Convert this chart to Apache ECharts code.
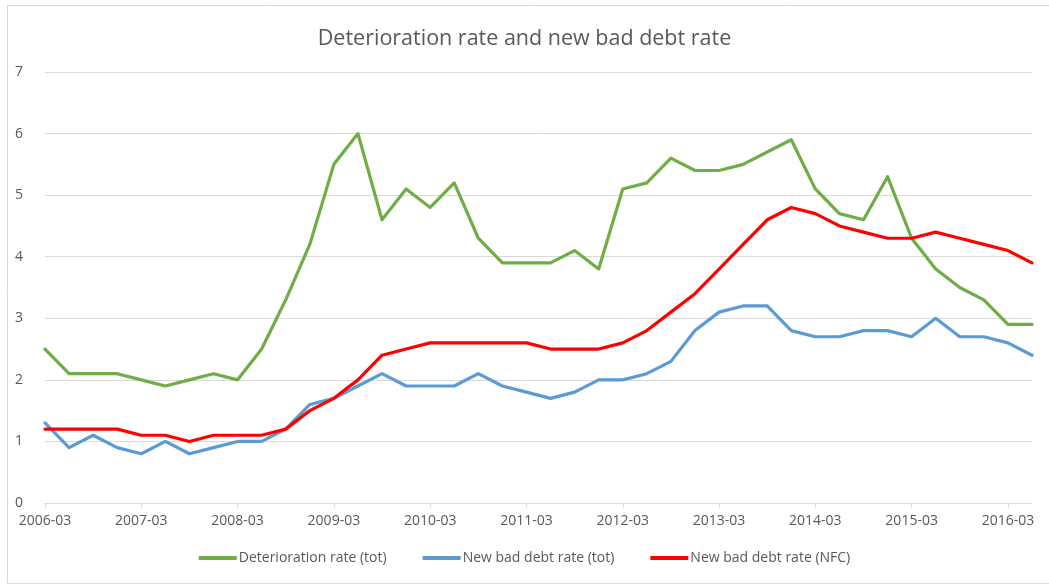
<!DOCTYPE html>
<html>
<head>
<meta charset="utf-8">
<script src="https://cdn.jsdelivr.net/npm/echarts@6/dist/echarts.min.js"></script>
<style>
  html, body { margin: 0; padding: 0; background: #ffffff; }
  #chart { width: 1049px; height: 586px; }
</style>
</head>
<body>
<div id="chart"></div>
<script>
// Quarterly periods, 2006-03 to 2016-06
const quarters = [
  '2006-03','2006-06','2006-09','2006-12',
  '2007-03','2007-06','2007-09','2007-12',
  '2008-03','2008-06','2008-09','2008-12',
  '2009-03','2009-06','2009-09','2009-12',
  '2010-03','2010-06','2010-09','2010-12',
  '2011-03','2011-06','2011-09','2011-12',
  '2012-03','2012-06','2012-09','2012-12',
  '2013-03','2013-06','2013-09','2013-12',
  '2014-03','2014-06','2014-09','2014-12',
  '2015-03','2015-06','2015-09','2015-12',
  '2016-03','2016-06'
];

// Deterioration rate (total)
const deteriorationTot = [
  2.5, 2.1, 2.1, 2.1, 2.0, 1.9, 2.0, 2.1, 2.0, 2.5, 3.3, 4.2,
  5.5, 6.0, 4.6, 5.1, 4.8, 5.2, 4.3, 3.9, 3.9, 3.9, 4.1, 3.8,
  5.1, 5.2, 5.6, 5.4, 5.4, 5.5, 5.7, 5.9, 5.1, 4.7, 4.6, 5.3,
  4.3, 3.8, 3.5, 3.3, 2.9, 2.9
];

// New bad debt rate (total)
const newBadDebtTot = [
  1.3, 0.9, 1.1, 0.9, 0.8, 1.0, 0.8, 0.9, 1.0, 1.0, 1.2, 1.6,
  1.7, 1.9, 2.1, 1.9, 1.9, 1.9, 2.1, 1.9, 1.8, 1.7, 1.8, 2.0,
  2.0, 2.1, 2.3, 2.8, 3.1, 3.2, 3.2, 2.8, 2.7, 2.7, 2.8, 2.8,
  2.7, 3.0, 2.7, 2.7, 2.6, 2.4
];

// New bad debt rate (non-financial corporations)
const newBadDebtNFC = [
  1.2, 1.2, 1.2, 1.2, 1.1, 1.1, 1.0, 1.1, 1.1, 1.1, 1.2, 1.5,
  1.7, 2.0, 2.4, 2.5, 2.6, 2.6, 2.6, 2.6, 2.6, 2.5, 2.5, 2.5,
  2.6, 2.8, 3.1, 3.4, 3.8, 4.2, 4.6, 4.8, 4.7, 4.5, 4.4, 4.3,
  4.3, 4.4, 4.3, 4.2, 4.1, 3.9
];

const seriesNames = [
  'Deterioration rate (tot)',
  'New bad debt rate (tot)',
  'New bad debt rate (NFC)'
];

const textColor = '#595959';
const lineGrey = '#d9d9d9';
const fontFamily = '"Open Sans", "Liberation Sans", "DejaVu Sans", sans-serif';

const chart = echarts.init(document.getElementById('chart'), null, { renderer: 'canvas' });

function lineSeries(name, data, color) {
  return {
    name: name,
    type: 'line',
    data: data,
    showSymbol: false,
    symbol: 'none',
    smooth: false,
    color: color,
    lineStyle: { color: color, width: 3.2, join: 'round', cap: 'round' },
    emphasis: { disabled: true },
    animation: false
  };
}

chart.setOption({
  backgroundColor: '#ffffff',
  animation: false,
  textStyle: { fontFamily: fontFamily },
  title: {
    text: 'Deterioration rate and new bad debt rate',
    left: 'center',
    top: 23,
    textStyle: { color: textColor, fontSize: 21.5, fontWeight: 'normal', fontFamily: fontFamily }
  },
  graphic: [{
    type: 'rect',
    shape: { x: 7.5, y: 5.5, width: 1046, height: 578 },
    style: { fill: 'none', stroke: lineGrey, lineWidth: 1 },
    silent: true,
    z: -1
  }],
  legend: {
    data: seriesNames,
    bottom: 16,
    left: 'center',
    icon: 'rect',
    itemWidth: 38,
    itemHeight: 4,
    itemGap: 36,
    textStyle: { color: textColor, fontSize: 14, fontFamily: fontFamily, padding: [0, 0, 0, -3] }
  },
  grid: {
    left: 45,
    right: 17,
    top: 72,
    bottom: 83,
    containLabel: false
  },
  xAxis: {
    type: 'category',
    data: quarters,
    boundaryGap: false,
    axisLine: { show: true, lineStyle: { color: lineGrey, width: 1 } },
    axisTick: { show: true, interval: 3, length: 5, lineStyle: { color: lineGrey } },
    axisLabel: { interval: 3, color: textColor, fontSize: 14, margin: 11, fontFamily: fontFamily },
    splitLine: { show: false }
  },
  yAxis: {
    type: 'value',
    min: 0,
    max: 7,
    interval: 1,
    axisLine: { show: false },
    axisTick: { show: false },
    axisLabel: { color: textColor, fontSize: 14, margin: 22, fontFamily: fontFamily },
    splitLine: { show: true, lineStyle: { color: lineGrey, width: 1 } }
  },
  series: [
    lineSeries(seriesNames[0], deteriorationTot, '#70ad47'),
    lineSeries(seriesNames[1], newBadDebtTot, '#5b9bd5'),
    lineSeries(seriesNames[2], newBadDebtNFC, '#ff0000')
  ]
});
</script>
</body>
</html>
